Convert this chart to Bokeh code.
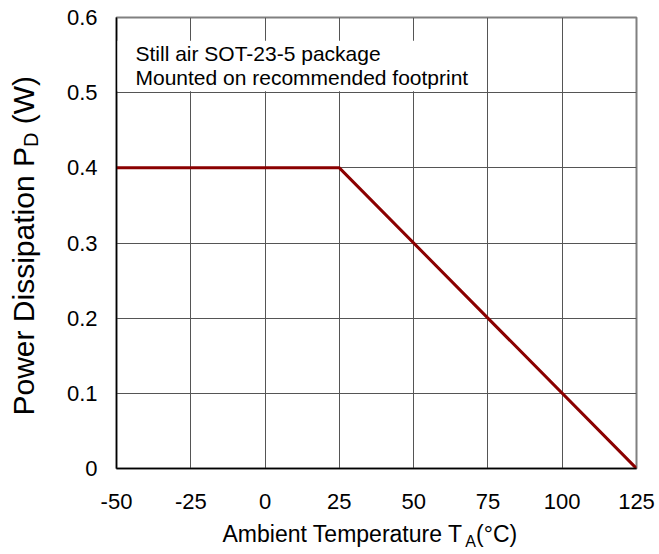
from bokeh.plotting import figure
from bokeh.layouts import column, row
from bokeh.models import Label, FixedTicker
from bokeh.core.properties import value
from bokeh.embed import file_html
from bokeh.resources import INLINE

# Derating curve: ambient temperature (°C) vs allowed power dissipation (W)
temp_c = [-50, 25, 125]
power_w = [0.4, 0.4, 0.0]

x_ticks = [-50, -25, 0, 25, 50, 75, 100, 125]
x_tick_labels = ["-50", "-25", "0", "25", "50", "75", "100", "125"]
y_ticks = [0.0, 0.1, 0.2, 0.3, 0.4, 0.5, 0.6]
y_tick_labels = ["0", "0.1", "0.2", "0.3", "0.4", "0.5", "0.6"]

note_lines = ["Still air SOT-23-5 package", "Mounted on recommended footprint"]

# axis titles split into (text, font px, centre shift px, gap before px) pieces
x_title = [("Ambient Temperature T", 23, 0, 0), ("A", 16, 7, 0), ("(°C)", 23, 0, 0)]
y_title = [("Power Dissipation P", 30, 0, 0), ("D", 20, 8, 0), ("(W)", 30, 0, 8.3)]

FONT = "Liberation Sans"

# Arial-compatible advance widths (per 1000 em) used to chain title pieces
ADV = {'A': 667, 'm': 833, 'b': 556, 'i': 222, 'e': 556, 'n': 556, 't': 278,
       ' ': 278, 'T': 611, 'p': 556, 'r': 333, 'a': 556, 'u': 556, '(': 333,
       '°': 400, 'C': 722, ')': 333, 'P': 667, 'o': 556, 'w': 722, 'D': 722,
       's': 500, 'W': 944}


def text_width(s, size):
    return sum(ADV[c] for c in s) / 1000.0 * size


TOTAL_W, TOTAL_H = 659, 554
YT_W = 50            # strip holding the vertical title
XT_H = 36            # strip holding the horizontal title
FRAME_W, FRAME_H = 520, 451
LEFT, RIGHT, TOP = 116 - YT_W, 23, 17
MAIN_H = TOTAL_H - XT_H
BOTTOM = MAIN_H - TOP - FRAME_H

p = figure(width=LEFT + FRAME_W + RIGHT, height=MAIN_H,
           frame_width=FRAME_W, frame_height=FRAME_H,
           x_range=(x_ticks[0], x_ticks[-1]), y_range=(y_ticks[0], y_ticks[-1]),
           output_backend="svg", toolbar_location=None,
           min_border_left=LEFT, min_border_right=RIGHT,
           min_border_top=TOP, min_border_bottom=BOTTOM)

p.background_fill_color = "white"
p.border_fill_color = "white"
p.outline_line_color = "#808080"
p.outline_line_width = 2

# grid
p.xgrid.ticker = FixedTicker(ticks=x_ticks)
p.ygrid.ticker = FixedTicker(ticks=y_ticks)
for g in (p.xgrid, p.ygrid):
    g.grid_line_color = "#555555"
    g.grid_line_width = 1

# axes
for ax in (p.xaxis, p.yaxis):
    ax.axis_line_color = "black"
    ax.axis_line_width = 1.5
    ax.major_tick_in = 0
    ax.major_tick_out = 0
    ax.minor_tick_line_color = None
    ax.major_label_text_font = FONT
    ax.major_label_text_font_size = "22px"
    ax.major_label_text_color = "black"

p.xaxis.ticker = FixedTicker(ticks=x_ticks)
p.yaxis.ticker = FixedTicker(ticks=y_ticks)
p.xaxis.major_label_overrides = dict(zip(x_ticks, x_tick_labels))
p.yaxis.major_label_overrides = dict(zip(y_ticks, y_tick_labels))
p.xaxis.major_label_standoff = 25
p.yaxis.major_label_standoff = 19

# white panel behind the note text
p.quad(left=x_ticks[0], right=73.8, bottom=0.502, top=0.569,
       fill_color="white", line_color=None)

for i, line in enumerate(note_lines):
    p.add_layout(Label(x=x_ticks[0], y=y_ticks[-1], x_offset=19, y_offset=-36 - 24 * i,
                       text=line, text_font=FONT, text_font_size="21px",
                       text_baseline="middle", text_align="left", text_color="black"))

# derating curve
p.line(temp_c, power_w, line_color="#8b0000", line_width=3)


def strip(w, h, x_rng, y_rng, **borders):
    s = figure(width=w, height=h, x_range=x_rng, y_range=y_rng,
               output_backend="svg", toolbar_location=None,
               x_axis_type=None, y_axis_type=None, **borders)
    s.grid.visible = False
    s.outline_line_color = None
    s.background_fill_color = "white"
    s.border_fill_color = "white"
    return s


# horizontal title strip under the chart (1 data unit = 1 px, y up from page bottom)
xs = strip(TOTAL_W, XT_H, (0, TOTAL_W), (0, XT_H), min_border=0)
pos = 222
mid = TOTAL_H - 533.5
for txt, size, dy, gap in x_title:
    pos += gap
    xs.text(x=[pos], y=[mid - dy], text=[txt], text_font=value(FONT),
            text_font_size=value(f"{size}px"), text_baseline="middle",
            text_align="left", text_color="black")
    pos += text_width(txt, size)

# vertical title strip left of the chart; its frame lines up with the main frame
ys = strip(YT_W, MAIN_H, (0, YT_W), (BOTTOM, BOTTOM + FRAME_H),
           frame_width=YT_W, frame_height=FRAME_H,
           min_border_left=0, min_border_right=0,
           min_border_top=TOP, min_border_bottom=BOTTOM)
pos = MAIN_H - 415
for txt, size, dx, gap in y_title:
    pos += gap
    ys.text(x=[22.5 + dx], y=[pos], text=[txt], text_font=value(FONT),
            text_font_size=value(f"{size}px"), text_baseline="middle",
            text_align="left", text_color="black", angle=1.5707963)
    pos += text_width(txt, size)

layout = column(row(ys, p, spacing=0), xs, spacing=0)
open("out.html", "w").write(file_html(layout, INLINE))
